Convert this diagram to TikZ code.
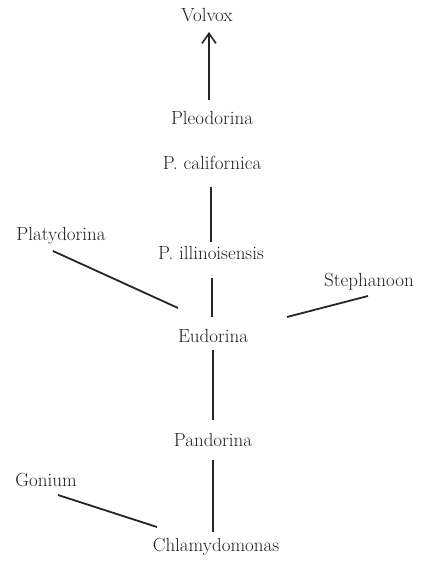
\documentclass[tikz,border=0pt]{standalone}
\usepackage{fontspec}
\usetikzlibrary{arrows.meta}
\begin{document}
\begin{tikzpicture}[x=1pt,y=-1pt,
  lab/.style={inner sep=0pt, text=black!88, font=\fontsize{19}{22}\selectfont},
  link/.style={line width=1.8pt, draw=black!85}]
\useasboundingbox (0,0) rectangle (426,562);
\node[lab] (volvox) at (207,15) {Volvox};
\node[lab] (pleo) at (212,118) {Pleodorina};
\node[lab] (pcal) at (212,163) {P. californica};
\node[lab] (pill) at (211,253) {P. illinoisensis};
\node[lab] (plat) at (61,236) {Platydorina};
\node[lab] (steph) at (369,282) {Stephanoon};
\node[lab] (eud) at (213,336) {Eudorina};
\node[lab] (pand) at (213,440) {Pandorina};
\node[lab] (gon) at (46,480) {Gonium};
\node[lab] (chlam) at (216,547) {Chlamydomonas};
% connectors
\draw[link, -{Straight Barb[length=10pt,width=14pt,line width=1.6pt]}]
  ([shift={(-3,-18)}]pleo.center) -- ([shift={(2,17)}]volvox.center);
\draw[link] ([shift={(-1,24)}]pcal.center) -- ([shift={(0,-11)}]pill.center);
\draw[link] ([shift={(1,25)}]pill.center) -- ([shift={(-1,-19)}]eud.center);
\draw[link] ([shift={(0,14)}]eud.center) -- ([shift={(0,-20)}]pand.center);
\draw[link] ([shift={(0,20)}]pand.center) -- ([shift={(-3,-15)}]chlam.center);
\draw[link] ([shift={(-8,15)}]plat.center) -- ([shift={(-35,-28)}]eud.center);
\draw[link] ([shift={(-1,14)}]steph.center) -- ([shift={(74,-19)}]eud.center);
\draw[link] ([shift={(12,15)}]gon.center) -- ([shift={(-59,-20)}]chlam.center);
\end{tikzpicture}
\end{document}
